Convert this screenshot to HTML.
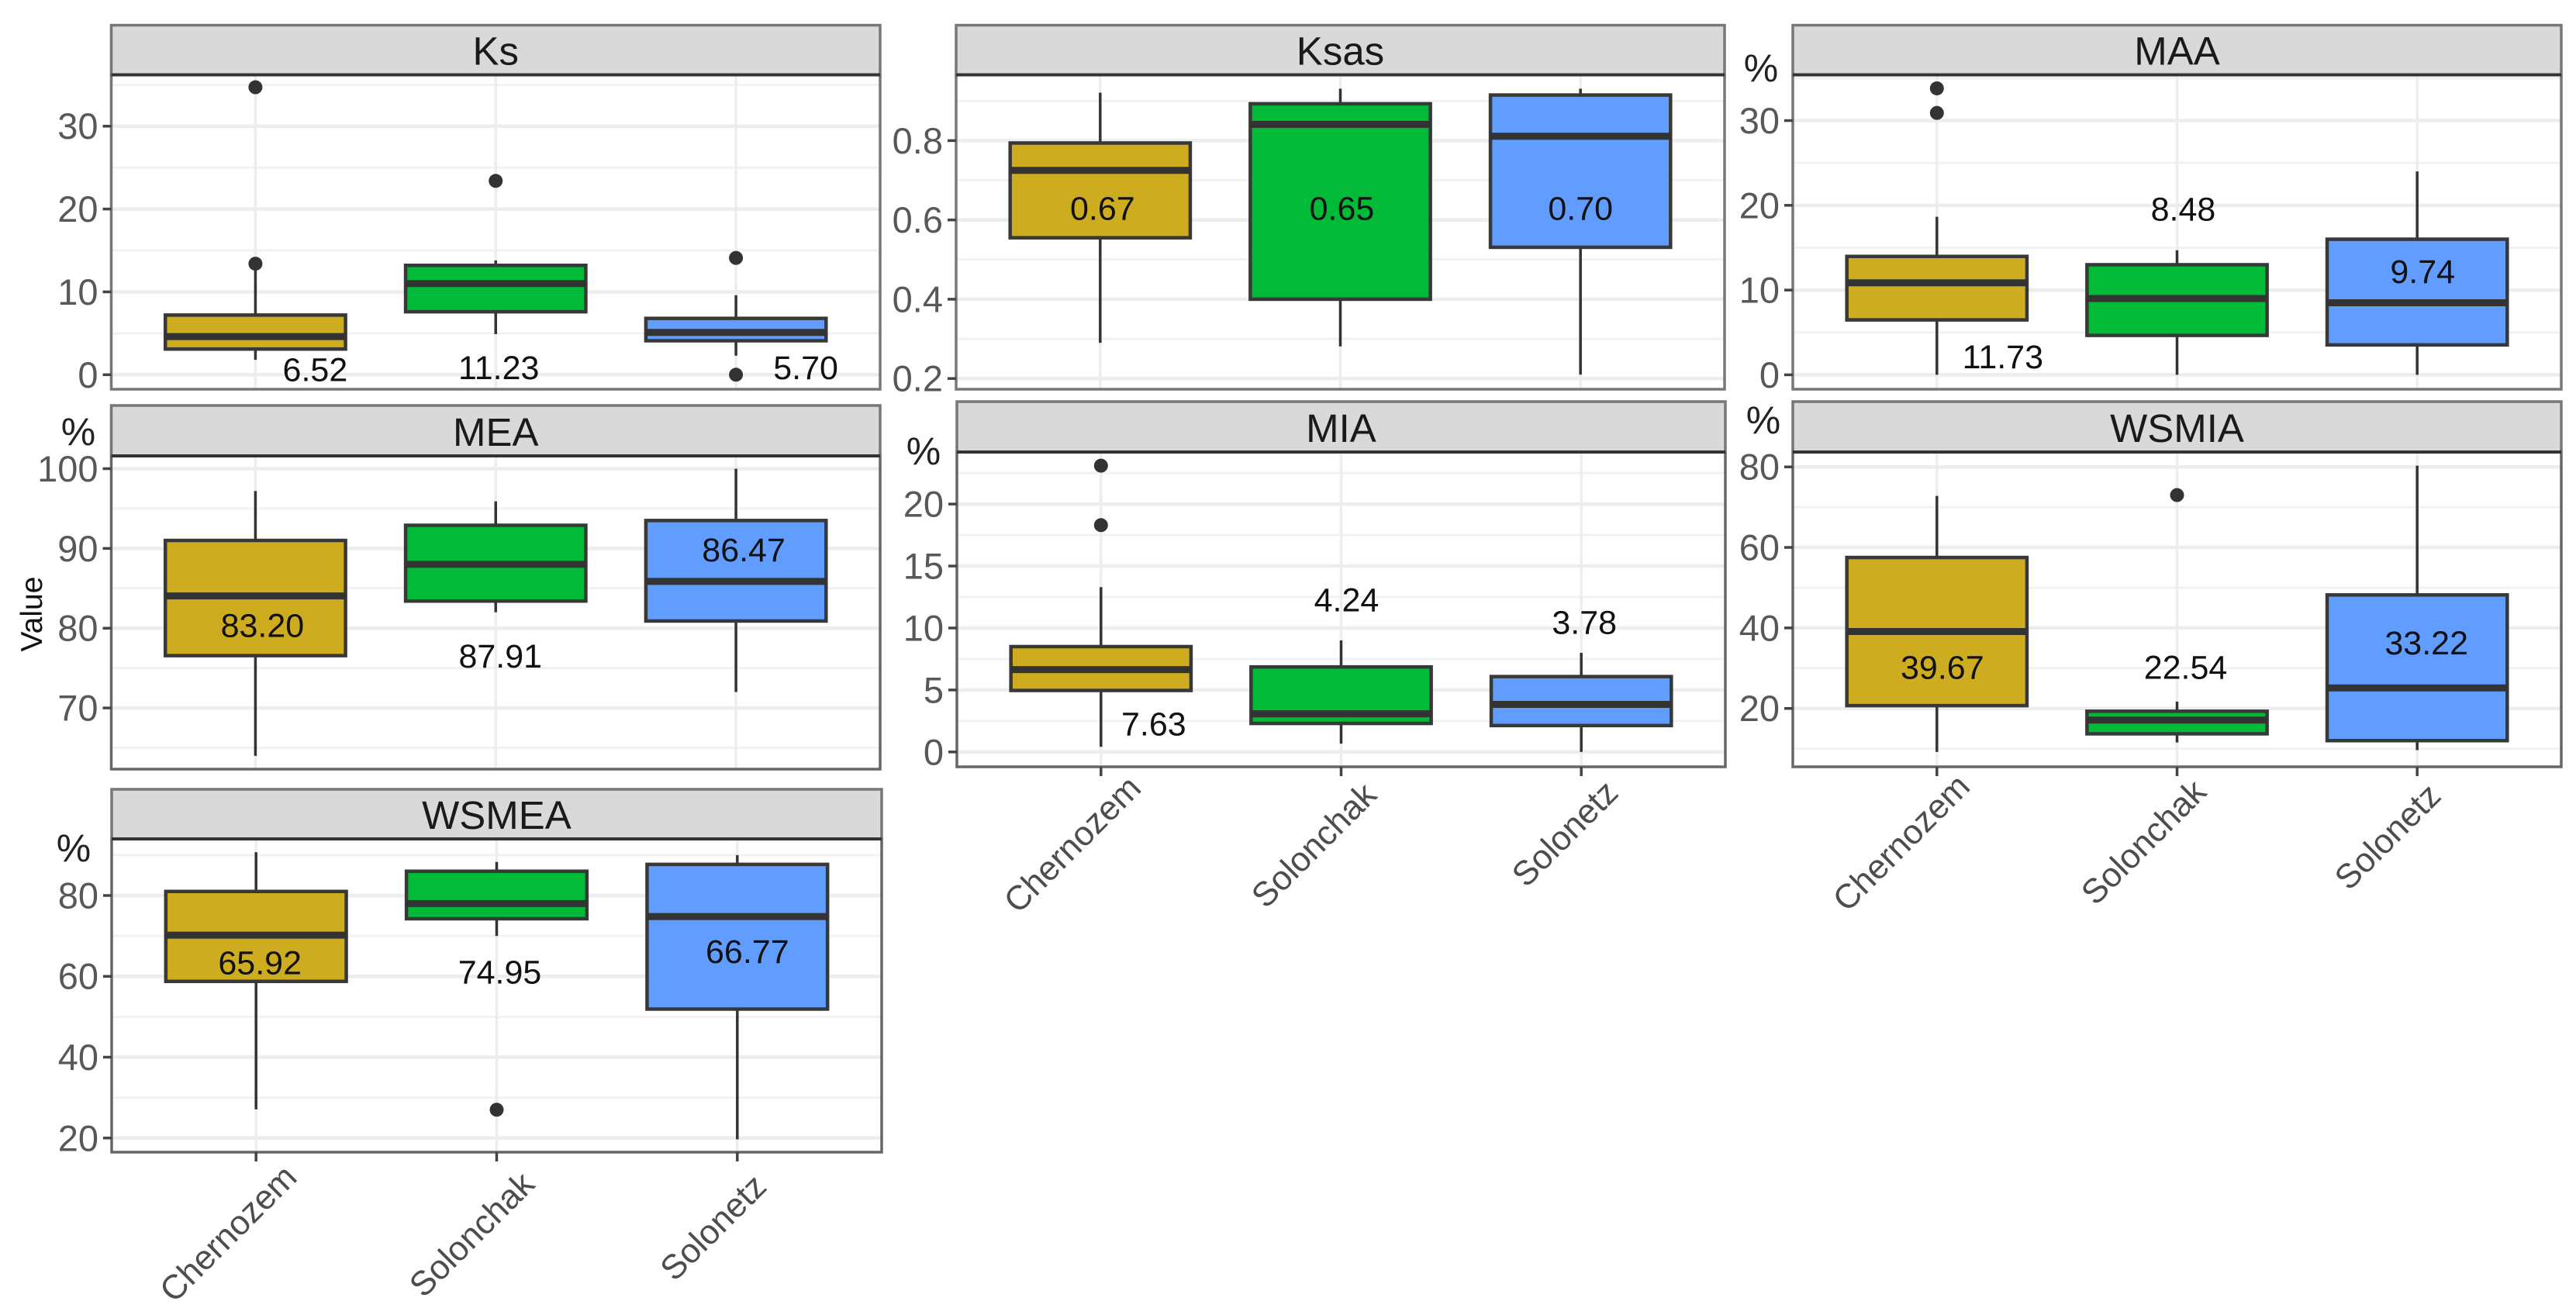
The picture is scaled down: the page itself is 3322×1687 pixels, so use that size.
<!DOCTYPE html>
<html lang="en">
<head>
<meta charset="utf-8">
<title>Soil property boxplots by soil type</title>
<style>
html,body{margin:0;padding:0;background:#fff;width:3322px;height:1687px;overflow:hidden}
svg{display:block}
text{font-family:"Liberation Sans",sans-serif}
</style>
</head>
<body>
<svg id="chart" xmlns="http://www.w3.org/2000/svg" width="3322" height="1687" viewBox="0 0 3322 1687"></svg>
<script>
const categories = ['Chernozem', 'Solonchak', 'Solonetz'];
const fillColors = ['#cdac1f', '#00ba38', '#619cff'];

const ksTicks = [0, 10, 20, 30];
const ksTickLabels = ['0', '10', '20', '30'];
const ksDomain = [-1.75, 36.2];
const ksLow = [1.8, 4.9, 2.3];
const ksQ1 = [3.1, 7.6, 4.1];
const ksMedian = [4.6, 11.0, 5.1];
const ksQ3 = [7.2, 13.2, 6.8];
const ksHigh = [13.2, 13.8, 9.6];
const ksOutliers = [[34.7, 13.4], [23.4], [14.1, 0]];
const ksMeans = ['6.52', '11.23', '5.70'];
const ksMeanAt = [0.67, 0.9, 0.9];

const ksasTicks = [0.2, 0.4, 0.6, 0.8];
const ksasTickLabels = ['0.2', '0.4', '0.6', '0.8'];
const ksasDomain = [0.173, 0.966];
const ksasLow = [0.29, 0.281, 0.21];
const ksasQ1 = [0.555, 0.40, 0.531];
const ksasMedian = [0.725, 0.841, 0.811];
const ksasQ3 = [0.794, 0.893, 0.915];
const ksasHigh = [0.921, 0.931, 0.931];
const ksasOutliers = [[], [], []];
const ksasMeans = ['0.67', '0.65', '0.70'];
const ksasMeanAt = [0.631, 0.631, 0.631];

const maaTicks = [0, 10, 20, 30];
const maaTickLabels = ['0', '10', '20', '30'];
const maaDomain = [-1.7, 35.4];
const maaLow = [0, 0, 0];
const maaQ1 = [6.48, 4.65, 3.53];
const maaMedian = [10.86, 9.0, 8.5];
const maaQ3 = [13.97, 12.99, 16.0];
const maaHigh = [18.65, 14.7, 24.0];
const maaOutliers = [[33.8, 30.9], [], []];
const maaMeans = ['11.73', '8.48', '9.74'];
const maaMeanAt = [2.2, 19.6, 12.27];

const meaTicks = [70, 80, 90, 100];
const meaTickLabels = ['70', '80', '90', '100'];
const meaDomain = [62.33, 101.6];
const meaLow = [64.0, 82.0, 72.0];
const meaQ1 = [76.56, 83.4, 80.9];
const meaMedian = [84.04, 88.0, 85.86];
const meaQ3 = [91.0, 92.9, 93.5];
const meaHigh = [97.2, 95.9, 100];
const meaOutliers = [[], [], []];
const meaMeans = ['83.20', '87.91', '86.47'];
const meaMeanAt = [80.4, 76.56, 89.9];

const miaTicks = [0, 5, 10, 15, 20];
const miaTickLabels = ['0', '5', '10', '15', '20'];
const miaDomain = [-1.2, 24.2];
const miaLow = [0.42, 0.67, 0];
const miaQ1 = [4.96, 2.3, 2.13];
const miaMedian = [6.64, 3.08, 3.84];
const miaQ3 = [8.5, 6.86, 6.08];
const miaHigh = [13.3, 9.0, 8.0];
const miaOutliers = [[23.1, 18.3], [], []];
const miaMeans = ['7.63', '4.24', '3.78'];
const miaMeanAt = [2.3, 12.3, 10.5];

const wsmiaTicks = [20, 40, 60, 80];
const wsmiaTickLabels = ['20', '40', '60', '80'];
const wsmiaDomain = [5.5, 83.7];
const wsmiaLow = [9.2, 11.55, 9.66];
const wsmiaQ1 = [20.7, 13.7, 12.0];
const wsmiaMedian = [39.1, 17.1, 25.1];
const wsmiaQ3 = [57.5, 19.3, 48.2];
const wsmiaHigh = [72.8, 21.7, 80.3];
const wsmiaOutliers = [[], [73], []];
const wsmiaMeans = ['39.67', '22.54', '33.22'];
const wsmiaMeanAt = [30.3, 30.3, 36.4];

const wsmeaTicks = [20, 40, 60, 80];
const wsmeaTickLabels = ['20', '40', '60', '80'];
const wsmeaDomain = [16.5, 94];
const wsmeaLow = [27.1, 70, 19.66];
const wsmeaQ1 = [58.75, 74.25, 51.9];
const wsmeaMedian = [70.2, 78, 74.8];
const wsmeaQ3 = [81, 86, 87.7];
const wsmeaHigh = [90.7, 88.3, 90];
const wsmeaOutliers = [[], [27], []];
const wsmeaMeans = ['65.92', '74.95', '66.77'];
const wsmeaMeanAt = [63.5, 61.2, 66.25];

const NS = 'http://www.w3.org/2000/svg';
const svg = document.getElementById('chart');

function make(tag, attrs, parent, content) {
  const node = document.createElementNS(NS, tag);
  for (const key in attrs) node.setAttribute(key, attrs[key]);
  if (content !== undefined) node.textContent = content;
  parent.appendChild(node);
  return node;
}

function drawPanel(cfg) {
  const g = make('g', {}, svg);
  
  

  const w = cfg.x1 - cfg.x0;
  const unit = w / 3.2;
  const xScale = function (i) { return cfg.x0 + (i + 0.6) * unit; };
  const yScale = function (v) {
    return cfg.bottom - (v - cfg.domain[0]) / (cfg.domain[1] - cfg.domain[0]) * (cfg.bottom - cfg.top);
  };

  // major and minor horizontal grid
  const step = cfg.ticks[1] - cfg.ticks[0];
  const minors = cfg.ticks.map(function (t) { return t + step / 2; });
  minors.push(cfg.ticks[0] - step / 2);
  minors.forEach(function (m) {
    if (m <= cfg.domain[0] || m >= cfg.domain[1]) return;
    const line = make('line', { x1: cfg.x0, x2: cfg.x1, y1: yScale(m), y2: yScale(m), stroke: '#f2f2f2', 'stroke-width': 3 }, g);
    
    
  });
  cfg.ticks.forEach(function (t) {
    const line = make('line', { x1: cfg.x0, x2: cfg.x1, y1: yScale(t), y2: yScale(t), stroke: '#ededed', 'stroke-width': 4.5 }, g);
    
    
  });
  categories.forEach(function (c, i) {
    const line = make('line', { x1: xScale(i), x2: xScale(i), y1: cfg.top, y2: cfg.bottom, stroke: '#ededed', 'stroke-width': 3.5 }, g);
    
    
  });

  // boxes
  categories.forEach(function (c, i) {
    const x = xScale(i);
    const hw = 0.375 * unit;
    const whiskerHigh = make('line', { x1: x, x2: x, y1: yScale(cfg.q3[i]), y2: yScale(cfg.high[i]), stroke: '#333', 'stroke-width': 3.5 }, g);
    
    
    const whiskerLow = make('line', { x1: x, x2: x, y1: yScale(cfg.q1[i]), y2: yScale(cfg.low[i]), stroke: '#333', 'stroke-width': 3.5 }, g);
    
    
    const box = make('rect', { x: x - hw, width: 2 * hw, y: yScale(cfg.q3[i]), height: yScale(cfg.q1[i]) - yScale(cfg.q3[i]), fill: fillColors[i], stroke: '#383838', 'stroke-width': 4.5 }, g);
    
    
    const median = make('line', { x1: x - hw, x2: x + hw, y1: yScale(cfg.median[i]), y2: yScale(cfg.median[i]), stroke: '#333', 'stroke-width': 9 }, g);
    
    
    cfg.outliers[i].forEach(function (v) {
      const dot = make('circle', { cx: x, cy: yScale(v), r: 9, fill: '#333' }, g);
      
      
    });
    const mean = make('text', { x: x + cfg.meanDx[i], y: yScale(cfg.meanAt[i]) + 15.5, 'text-anchor': 'middle', 'font-size': 43, fill: '#111' }, g, cfg.means[i]);
    
    
  });

  // strip and frame
  const frame = make('rect', { x: cfg.x0, y: cfg.top, width: w, height: cfg.bottom - cfg.top, fill: 'none', stroke: cfg.frameColor, 'stroke-width': 3.5 }, g);
  
  
  const strip = make('rect', { x: cfg.x0, y: cfg.stripTop, width: w, height: cfg.top - cfg.stripTop, fill: '#d9d9d9', stroke: '#777', 'stroke-width': 3.5 }, g);
  
  
  const stripLine = make('line', { x1: cfg.x0, x2: cfg.x1, y1: cfg.top, y2: cfg.top, stroke: '#333', 'stroke-width': 4 }, g);
  
  
  const title = make('text', { x: (cfg.x0 + cfg.x1) / 2, y: cfg.top - 13, 'text-anchor': 'middle', 'font-size': 51, fill: '#1a1a1a' }, g, cfg.title);
  
  

  // y axis
  cfg.ticks.forEach(function (t, i) {
    const tick = make('line', { x1: cfg.x0 - 11, x2: cfg.x0, y1: yScale(t), y2: yScale(t), stroke: '#444', 'stroke-width': 3.5 }, g);
    
    
    const label = make('text', { x: cfg.x0 - 17, y: yScale(t) + 16.5, 'text-anchor': 'end', 'font-size': 47, fill: '#585858' }, g, cfg.tickLabels[i]);
    
    
  });

  // percent unit
  if (cfg.unitAt) {
    const pct = make('text', { x: cfg.unitAt[0], y: cfg.unitAt[1], 'text-anchor': 'middle', 'font-size': 50, fill: '#222' }, g, '%');
    
    
  }

  // x axis
  if (cfg.xLabelOffsets) {
    categories.forEach(function (c, i) {
      const x = xScale(i);
      const tick = make('line', { x1: x, x2: x, y1: cfg.bottom, y2: cfg.bottom + 12, stroke: '#444', 'stroke-width': 3.5 }, g);
      
      
      const ax = x + cfg.xLabelOffsets[i][0];
      const ay = cfg.bottom + cfg.xLabelOffsets[i][1];
      const label = make('text', { x: ax, y: ay, 'text-anchor': 'end', 'font-size': 44, fill: '#4d4d4d', transform: 'rotate(-45 ' + ax + ' ' + ay + ')' }, g, c);
      
      
    });
  }
}

drawPanel({ key: 'ks', title: 'Ks', x0: 143.5, x1: 1135, stripTop: 32.5, top: 96.5, bottom: 502, frameColor: '#777',
  domain: ksDomain, ticks: ksTicks, tickLabels: ksTickLabels, low: ksLow, q1: ksQ1, median: ksMedian, q3: ksQ3, high: ksHigh,
  outliers: ksOutliers, means: ksMeans, meanAt: ksMeanAt, meanDx: [77, 4, 90] });
drawPanel({ key: 'ksas', title: 'Ksas', x0: 1233, x1: 2224, stripTop: 32.5, top: 96.5, bottom: 502, frameColor: '#777',
  domain: ksasDomain, ticks: ksasTicks, tickLabels: ksasTickLabels, low: ksasLow, q1: ksasQ1, median: ksasMedian, q3: ksasQ3, high: ksasHigh,
  outliers: ksasOutliers, means: ksasMeans, meanAt: ksasMeanAt, meanDx: [3, 2, 0] });
drawPanel({ key: 'maa', title: 'MAA', x0: 2312, x1: 3303, stripTop: 32.5, top: 96.5, bottom: 502, frameColor: '#777', unitAt: [2271, 105],
  domain: maaDomain, ticks: maaTicks, tickLabels: maaTickLabels, low: maaLow, q1: maaQ1, median: maaMedian, q3: maaQ3, high: maaHigh,
  outliers: maaOutliers, means: maaMeans, meanAt: maaMeanAt, meanDx: [85, 8, 7] });
drawPanel({ key: 'mea', title: 'MEA', x0: 143.5, x1: 1135, stripTop: 523, top: 588, bottom: 992, frameColor: '#666', unitAt: [101, 574],
  domain: meaDomain, ticks: meaTicks, tickLabels: meaTickLabels, low: meaLow, q1: meaQ1, median: meaMedian, q3: meaQ3, high: meaHigh,
  outliers: meaOutliers, means: meaMeans, meanAt: meaMeanAt, meanDx: [9, 6, 10] });
drawPanel({ key: 'mia', title: 'MIA', x0: 1234, x1: 2225, stripTop: 518, top: 583, bottom: 989, frameColor: '#666', unitAt: [1191, 599],
  domain: miaDomain, ticks: miaTicks, tickLabels: miaTickLabels, low: miaLow, q1: miaQ1, median: miaMedian, q3: miaQ3, high: miaHigh,
  outliers: miaOutliers, means: miaMeans, meanAt: miaMeanAt, meanDx: [68, 7, 4],
  xLabelOffsets: [[54, 30], [48, 39], [50, 36]] });
drawPanel({ key: 'wsmia', title: 'WSMIA', x0: 2312, x1: 3303, stripTop: 518, top: 583, bottom: 989, frameColor: '#666', unitAt: [2274, 559],
  domain: wsmiaDomain, ticks: wsmiaTicks, tickLabels: wsmiaTickLabels, low: wsmiaLow, q1: wsmiaQ1, median: wsmiaMedian, q3: wsmiaQ3, high: wsmiaHigh,
  outliers: wsmiaOutliers, means: wsmiaMeans, meanAt: wsmiaMeanAt, meanDx: [7, 11, 12],
  xLabelOffsets: [[45, 28], [40, 35], [33, 40]] });
drawPanel({ key: 'wsmea', title: 'WSMEA', x0: 144, x1: 1137, stripTop: 1018, top: 1082, bottom: 1486, frameColor: '#666', unitAt: [95, 1111],
  domain: wsmeaDomain, ticks: wsmeaTicks, tickLabels: wsmeaTickLabels, low: wsmeaLow, q1: wsmeaQ1, median: wsmeaMedian, q3: wsmeaQ3, high: wsmeaHigh,
  outliers: wsmeaOutliers, means: wsmeaMeans, meanAt: wsmeaMeanAt, meanDx: [5, 4, 13],
  xLabelOffsets: [[55, 35], [51, 44], [40, 47]] });

const yTitle = make('text', { x: 54, y: 792, 'text-anchor': 'middle', 'font-size': 39, fill: '#111', transform: 'rotate(-90 54 792)' }, svg, 'Value');


</script>
</body>
</html>
